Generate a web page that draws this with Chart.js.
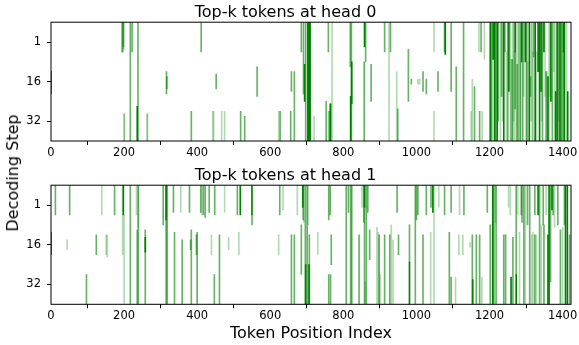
<!DOCTYPE html>
<html>
<head>
<meta charset="utf-8">
<script src="https://cdn.jsdelivr.net/npm/chart.js@4"></script>
<style>
  html, body { margin: 0; padding: 0; background: #fff; }
  body { width: 579px; height: 345px; position: relative; overflow: hidden; font-family: "DejaVu Sans", sans-serif; }
  canvas { position: absolute; left: 0; }
  #head0 { top: 0; }
  #head1 { top: 163px; }
  #ylabel {
    position: absolute; left: 13px; top: 172.5px;
    transform: translate(-50%, -50%) rotate(-90deg);
    font-size: 16px; line-height: 1; white-space: nowrap; color: #000;
  }
</style>
</head>
<body>
<canvas id="head0" width="579" height="163"></canvas>
<canvas id="head1" width="579" height="182"></canvas>
<div id="ylabel">Decoding Step</div>
<script>
// ---- axis definitions ----
const tokenCount = 1423;              // number of token positions in the context
const tokenTicks = [0, 200, 400, 600, 800, 1000, 1200, 1400];
const stepRows = 48;                  // rows of the decoding-step grid
const stepTickRows = [8, 24, 40];     // grid rows that carry a step label
const stepTickLabels = ['1', '16', '32'];
const headTitles = ['Top-k tokens at head 0', 'Top-k tokens at head 1'];
const xAxisTitle = 'Token Position Index';

// ---- selections: [token position, first row, last row] per weight level ----
const head0High = [
  [0,20,29],[236,34,48],[694,17,32],[703,0,48],[705,0,48],[707,0,48],[709,0,48],
  [765,33,48],[820,30,48],[823,16,33],[858,0,10],[1079,0,13],
  [1202,0,48],[1210,0,15],[1214,0,48],[1221,0,48],[1239,0,48],[1253,0,28],[1270,0,12],
  [1288,0,16],[1298,0,16],[1309,0,48],[1325,0,48],[1333,0,20],[1337,0,48],[1341,0,28],
  [1349,0,12],[1360,22,48],[1368,0,32],[1381,28,48],[1385,0,48],[1393,0,48],[1402,0,12],
  [1405,0,48],[1414,28,48]
];
const head0Mid = [
  [198,0,10],[217,0,48],[222,0,12],[238,0,48],[316,20,29],[317,22,27],[384,36,48],
  [411,0,12],[452,21,27],[519,36,48],[530,38,48],[564,18,30],[627,36,48],[656,36,48],
  [658,20,28],[666,20,48],[685,0,12],[691,0,29],[697,0,48],[753,32,48],[759,0,12],
  [761,36,48],[764,33,48],[819,0,18],[822,0,48],[857,16,48],[861,0,16],[876,17,32],
  [913,0,12],[929,0,12],[949,35,48],[978,11,32],[986,23,25],[1018,20,28],[1027,23,29],
  [1059,20,28],[1077,0,12],[1095,0,28],[1109,18,48],[1129,0,48],[1159,26,48],[1173,36,48],
  [1177,0,12],
  [1205,0,48],[1217,0,48],[1224,0,40],[1233,0,30],[1242,0,12],[1250,0,48],[1262,15,48],
  [1270,12,35],[1276,17,48],[1284,0,48],[1291,0,48],[1302,0,48],[1312,22,30],[1321,0,14],
  [1345,0,48],[1356,20,48],[1372,0,48],[1390,0,48],[1398,0,48],[1402,12,48]
];
const head0Low = [
  [194,0,12],[195,0,12],[196,0,12],[197,0,12],[199,0,11],[200,37,48],[201,37,48],
  [263,37,48],[264,37,48],[443,36,48],[445,36,48],[467,36,48],[475,36,48],[623,36,48],
  [720,38,48],[769,0,48],[925,0,48],[946,20,48],[1004,23,25],[1009,23,25],[1048,0,12],
  [1048,36,48],[1150,36,48],[1153,23,48],[1171,0,12],[1180,36,48],[1186,0,15],
  [1208,0,48],[1230,0,48],[1236,0,40],[1246,12,48],[1257,0,48],[1259,15,48],[1264,0,48],
  [1266,0,40],[1268,12,48],[1273,0,48],[1278,0,48],[1280,0,48],[1286,16,48],[1294,0,30],
  [1300,0,48],[1305,16,48],[1314,0,40],[1317,0,48],[1319,12,48],[1329,12,48],[1343,0,40],
  [1352,0,30],[1354,20,48],[1363,0,48],[1366,0,30],[1376,0,20],[1379,0,48],[1388,0,40],
  [1396,0,48],[1411,0,48]
];

const head1High = [
  [0,19,28],[198,0,12],[258,21,27],[315,0,14],[518,0,12],[550,0,12],[689,0,9],
  [697,32,48],[706,32,48],[858,0,9],[981,31,48],[1045,0,11],[1154,38,48],[1209,0,48],
  [1259,37,48],[1273,36,48],[1333,0,12],[1360,20,48],[1363,0,48],[1371,0,10],
  [1408,0,48],[1413,0,48]
];
const head1Mid = [
  [12,0,12],[51,0,12],[97,36,48],[124,20,28],[174,0,12],[217,0,48],[236,18,48],[239,0,48],
  [258,18,48],[307,0,16],[315,0,48],[318,0,48],[335,0,11],[338,19,48],[359,22,48],
  [379,0,11],[382,22,26],[384,18,48],[398,20,28],[400,19,48],[410,0,11],[417,0,12],
  [422,0,13],[433,0,11],[447,36,48],[448,0,12],[461,20,48],[510,0,12],[550,12,16],
  [626,0,12],[658,20,48],[666,20,48],[685,16,36],[690,0,14],[696,0,48],[701,0,48],
  [707,20,48],[760,0,14],[760,36,48],[764,0,12],[765,36,48],[767,20,32],[808,0,48],
  [814,0,11],[820,0,48],[823,0,48],[843,20,48],[856,0,15],[858,0,48],[863,0,48],
  [867,0,11],[872,18,30],[898,20,48],[913,20,48],[927,20,48],[947,0,11],[951,20,28],
  [981,16,31],[997,0,48],[1000,0,14],[1004,0,12],[1018,20,48],[1027,0,12],[1040,0,9],
  [1077,0,12],[1090,19,48],[1095,0,11],[1095,37,48],[1130,0,12],[1153,20,48],[1164,20,48],
  [1173,20,48],[1194,0,11],[1202,16,48],[1212,0,48],[1218,0,48],[1239,20,48],[1244,20,48],
  [1264,21,48],[1273,0,36],[1287,0,12],[1289,0,15],[1294,0,48],[1304,0,16],[1310,0,48],
  [1324,0,12],[1324,20,48],[1337,0,48],[1347,0,16],[1349,16,48],[1367,0,39],[1374,0,12],
  [1387,0,16],[1394,18,48],[1405,0,16],[1419,20,48]
];
const head1Low = [
  [44,22,26],[139,0,12],[151,20,28],[154,20,29],[196,0,28],[200,12,48],[234,0,12],
  [238,0,17],[355,0,11],[413,0,12],[439,20,28],[475,0,11],[486,21,26],[514,19,28],
  [623,20,28],[635,0,10],[674,0,12],[692,0,15],[704,0,16],[730,19,28],[851,0,9],
  [860,39,48],[892,17,48],[896,19,48],[901,36,48],[931,16,48],[936,22,48],[1039,19,48],
  [1048,0,48],[1061,0,9],[1107,37,48],[1116,20,28],[1118,0,12],[1127,20,28],[1147,23,25],
  [1179,37,48],[1216,0,15],[1252,0,9],[1257,0,12],[1277,0,12],[1282,19,48],[1298,0,48],
  [1315,20,48],[1319,19,48],[1328,20,48],[1342,16,48],[1355,0,12],[1378,0,17],[1400,17,48]
];

// ---- drawing ----
const FONT = '"DejaVu Sans", sans-serif';
const levelColors = ['rgb(0,128,0)', 'rgba(0,128,0,0.6)', 'rgba(0,128,0,0.3)'];

function toBars(segs) {
  return segs.map(([t, a, b]) => ({ x: t, y: [a, b] }));
}

// full box around the plotting area
const framePlugin = {
  id: 'frame',
  afterDatasetsDraw(chart) {
    const { ctx, chartArea: a } = chart;
    ctx.save();
    ctx.strokeStyle = '#000';
    ctx.lineWidth = 1;
    ctx.strokeRect(a.left, a.top, a.right - a.left, a.bottom - a.top);
    ctx.restore();
  }
};

function makeHeadChart(canvasId, title, levels, showXTitle, xAxisHeight) {
  const tickGrid = { drawOnChartArea: false, drawTicks: true, tickLength: 4, color: '#000', lineWidth: 1 };
  return new Chart(document.getElementById(canvasId), {
    type: 'bar',
    data: {
      datasets: levels.map((segs, i) => ({
        data: toBars(segs),
        backgroundColor: levelColors[i],
        borderWidth: 0,
        barThickness: 1,
        grouped: false
      }))
    },
    options: {
      responsive: false,
      animation: false,
      events: [],
      layout: { padding: { left: 0, right: 8, top: 0, bottom: 0 } },
      plugins: {
        legend: { display: false },
        tooltip: { enabled: false },
        title: {
          display: true, text: title, color: '#000',
          font: { family: FONT, size: 16, weight: 'normal' },
          padding: { top: 3, bottom: 0 }
        }
      },
      scales: {
        x: {
          type: 'linear', min: 0, max: tokenCount, offset: false,
          grid: tickGrid, border: { display: false },
          afterBuildTicks: s => { s.ticks = tokenTicks.map(v => ({ value: v })); },
          ticks: {
            autoSkip: false, maxRotation: 0,
            color: '#000', padding: 1, font: { family: FONT, size: 11.5 },
            callback: (v, i) => String(tokenTicks[i])
          },
          title: {
            display: showXTitle, text: xAxisTitle, color: '#000',
            font: { family: FONT, size: 16 }, padding: { top: 0, bottom: 2 }
          },
          afterFit: s => { s.height = xAxisHeight; }
        },
        y: {
          type: 'linear', min: 0, max: stepRows, reverse: true,
          grid: tickGrid, border: { display: false },
          afterBuildTicks: s => { s.ticks = stepTickRows.map(v => ({ value: v })); },
          ticks: {
            color: '#000', padding: 6, font: { family: FONT, size: 11.5 },
            callback: (v, i) => stepTickLabels[i]
          },
          afterFit: s => { s.width = 51; }
        }
      }
    },
    plugins: [framePlugin]
  });
}

makeHeadChart('head0', headTitles[0], [head0High, head0Mid, head0Low], false, 22);
makeHeadChart('head1', headTitles[1], [head1High, head1Mid, head1Low], true, 40.7);
</script>
</body>
</html>
